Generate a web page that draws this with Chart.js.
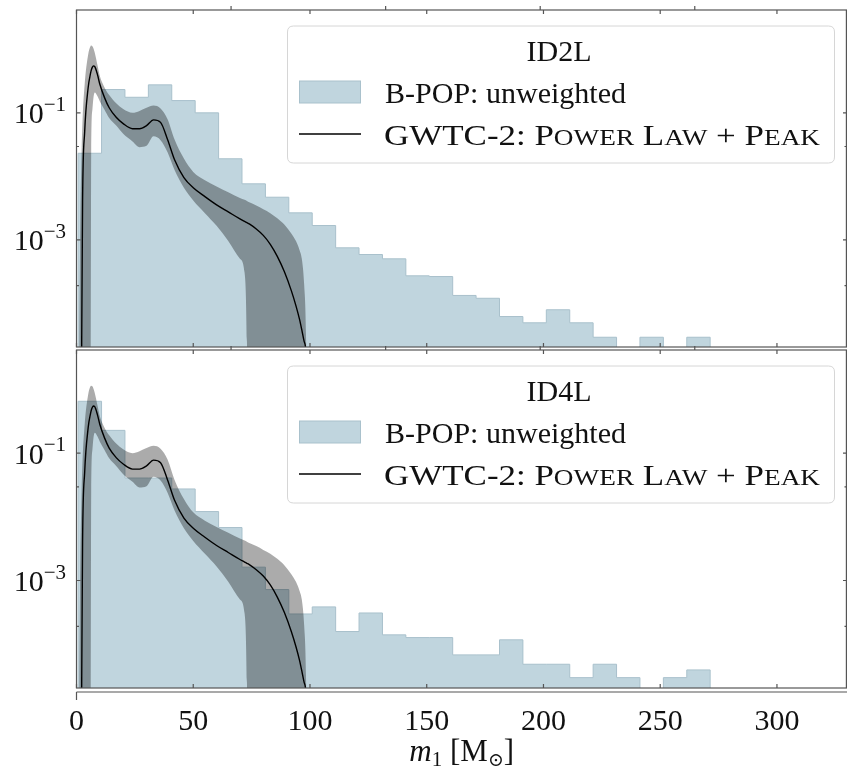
<!DOCTYPE html>
<html>
<head>
<meta charset="utf-8">
<script src="https://cdn.jsdelivr.net/npm/chart.js@4.4.0/dist/chart.umd.min.js"></script>
<style>
  html, body { margin: 0; padding: 0; background: #fff; }
  #wrap { position: relative; width: 847px; height: 771px; overflow: hidden; background: #fff; }
  canvas { position: absolute; left: 0; }
  #topPanel { top: 0; }
  #bottomPanel { top: 344px; }
</style>
</head>
<body>
<div id="wrap">
  <canvas id="topPanel" width="847" height="352"></canvas>
  <canvas id="bottomPanel" width="847" height="427"></canvas>
</div>
<script>
// histogram bin edges (27 bins, ~10 Msun wide)
var binEdges = [0.7, 10.73, 20.75, 30.78, 40.8, 50.83, 60.86, 70.88, 80.91, 90.93, 100.96, 110.99, 121.01,
                131.04, 141.06, 151.09, 161.12, 171.14, 181.17, 191.19, 201.22, 211.25, 221.27, 231.3,
                241.32, 251.35, 261.38, 271.4];

// B-POP unweighted densities
var histID2L = [0.0231, 0.233, 0.176, 0.276, 0.156, 0.100, 0.0189, 0.00762, 0.00469, 0.00266, 0.00168,
                0.000748, 0.000587, 0.000502, 0.000271, 0.000264, 0.000133, 0.000120, 0.0000619,
                0.0000493, 0.0000791, 0.0000493, 0.0000292, 0, 0.0000292, 0, 0.0000292];
var histID4L = [0.653, 0.228, 0.0407, 0.0407, 0.0274, 0.0121, 0.00679, 0.00162, 0.000721, 0.000298,
                0.000385, 0.000158, 0.000309, 0.000140, 0.000127, 0.000127, 0.0000679, 0.0000679,
                0.000117, 0.0000484, 0.0000484, 0.0000298, 0.0000484, 0.0000298, 0, 0.0000298, 0.0000394];

// GWTC-2 power law + peak: median and 90% band (log10 of density)
var massGrid  = [0.5, 1.5, 2.2, 2.6, 3.5, 5, 6, 6.3, 6.8, 7.2, 7.8, 9, 10, 12, 14, 17, 20, 24, 27, 30, 33, 36,
                 39, 42, 46, 50, 55, 60, 65, 70, 72, 73, 74, 77, 80, 83, 86, 89, 92, 94, 95.5, 96.5, 97.5,
                 98.3, 99, 100];
var medianLog = [-9, -9, -4.8, -2.4, -1.3, -0.6, -0.38, -0.33, -0.28, -0.26, -0.27, -0.4, -0.55, -0.76, -0.92,
                 -1.07, -1.17, -1.25, -1.25, -1.2, -1.11, -1.15, -1.42, -1.74, -2.02, -2.18, -2.32, -2.45,
                 -2.56, -2.67, -2.71, -2.73, -2.75, -2.83, -2.93, -3.07, -3.26, -3.5, -3.8, -4.04, -4.25,
                 -4.42, -4.6, -4.8, -6, -9];
var upperLog  = [-9, -3.2, -1.6, -1.1, -0.55, -0.08, 0.05, 0.06, 0.05, 0.02, -0.05, -0.25, -0.42, -0.6, -0.72,
                 -0.85, -0.94, -1.0, -0.97, -0.92, -0.885, -0.93, -1.1, -1.42, -1.72, -1.93, -2.06, -2.16,
                 -2.25, -2.34, -2.37, -2.39, -2.41, -2.46, -2.52, -2.58, -2.66, -2.76, -2.9, -3.02, -3.16,
                 -3.3, -3.7, -4.5, -7, -9];
var lowerLog  = [-9, -9, -9, -9, -9, -9, -6, -1.6, -0.95, -0.78, -0.68, -0.74, -0.82, -0.95, -1.08,
                 -1.2, -1.33, -1.45, -1.54, -1.52, -1.37, -1.43, -1.62, -1.9, -2.18, -2.38, -2.58, -2.78,
                 -3.02, -3.3, -3.52, -4.6, -9, -9, -9, -9, -9, -9, -9, -9, -9, -9, -9, -9, -9, -9];

var xTicks = [0, 50, 100, 150, 200, 250, 300];
var twinTicks = [66.2, 132.4, 198.6, 264.8];
var yMajor = [1e-1, 1e-3];
var yMajorExp = ['\u22121', '\u22123'];
var yMinor = [0.0295, 0.00019];

var X_MAX = 330, Y_MIN = 2.05e-5, Y_MAX = 4.17, FLOOR = 1e-9;
var SERIF = "'Liberation Serif', 'DejaVu Serif', 'DejaVu Sans', serif";
var AXIS = '#555555';

function curvePoints(logs) {
  return massGrid.map(function (m, i) { return { x: m, y: Math.pow(10, logs[i]) }; });
}

function histPoints(values) {
  var pts = [{ x: binEdges[0], y: FLOOR }];
  for (var i = 0; i < values.length; i++) {
    pts.push({ x: binEdges[i], y: values[i] > 0 ? values[i] : FLOOR });
  }
  var end = binEdges[binEdges.length - 1];
  var last = values[values.length - 1];
  pts.push({ x: end, y: last > 0 ? last : FLOOR });
  pts.push({ x: end, y: FLOOR });
  return pts;
}

function fontOf(r) { return (r.italic ? 'italic ' : '') + r.size + 'px ' + SERIF; }

function drawRuns(ctx, runs, x, y, align, fitWidth) {
  var total = 0;
  runs.forEach(function (r) { ctx.font = fontOf(r); r.w = ctx.measureText(r.text).width; total += r.w; });
  var sx = fitWidth ? fitWidth / total : 1;
  var w = total * sx;
  var start = align === 'center' ? x - w / 2 : (align === 'right' ? x - w : x);
  ctx.save();
  ctx.translate(start, y);
  ctx.scale(sx, 1);
  ctx.fillStyle = '#111';
  ctx.textAlign = 'left';
  ctx.textBaseline = 'alphabetic';
  var cx = 0;
  runs.forEach(function (r) { ctx.font = fontOf(r); ctx.fillText(r.text, cx, r.dy || 0); cx += r.w; });
  ctx.restore();
}

function smallCaps(text, size) {
  var runs = [];
  for (var i = 0; i < text.length; i++) {
    var ch = text[i];
    var low = ch !== ch.toUpperCase();
    var r = low ? { text: ch.toUpperCase(), size: size * 0.78 } : { text: ch, size: size };
    var prev = runs[runs.length - 1];
    if (prev && prev.size === r.size) prev.text += r.text; else runs.push(r);
  }
  return runs;
}

function roundRect(ctx, x, y, w, h, r) {
  ctx.beginPath();
  ctx.moveTo(x + r, y);
  ctx.lineTo(x + w - r, y); ctx.quadraticCurveTo(x + w, y, x + w, y + r);
  ctx.lineTo(x + w, y + h - r); ctx.quadraticCurveTo(x + w, y + h, x + w - r, y + h);
  ctx.lineTo(x + r, y + h); ctx.quadraticCurveTo(x, y + h, x, y + h - r);
  ctx.lineTo(x, y + r); ctx.quadraticCurveTo(x, y, x + r, y);
  ctx.closePath();
}

var panelFrame = {
  id: 'panelFrame',
  afterDraw: function (chart, args, opts) {
    var ctx = chart.ctx, a = chart.chartArea;
    var xs = chart.scales.x, ys = chart.scales.y;
    ctx.save();
    ctx.strokeStyle = AXIS;
    ctx.lineWidth = 1.2;
    // spines
    ctx.strokeRect(a.left, a.top, a.right - a.left - 0.6, a.bottom - a.top);
    ctx.beginPath();
    xTicks.forEach(function (v) {
      var px = xs.getPixelForValue(v);
      ctx.moveTo(px, a.bottom); ctx.lineTo(px, a.bottom - 4);
      ctx.moveTo(px, a.top); ctx.lineTo(px, a.top + 4);
    });
    twinTicks.forEach(function (v) {
      var px = xs.getPixelForValue(v);
      ctx.moveTo(px, a.top); ctx.lineTo(px, a.top - 4);
    });
    yMajor.forEach(function (v) {
      var py = ys.getPixelForValue(v);
      ctx.moveTo(a.left, py); ctx.lineTo(a.left + 4, py);
      ctx.moveTo(a.right, py); ctx.lineTo(a.right - 4, py);
    });
    yMinor.forEach(function (v) {
      var py = ys.getPixelForValue(v);
      ctx.moveTo(a.left, py); ctx.lineTo(a.left + 2.5, py);
      ctx.moveTo(a.right, py); ctx.lineTo(a.right - 2.5, py);
    });
    if (opts.extraBottomLine) {
      ctx.moveTo(a.left, a.bottom + 4); ctx.lineTo(a.right, a.bottom + 4);
      ctx.moveTo(a.left, a.bottom + 4); ctx.lineTo(a.left, a.bottom + 12);
    }
    ctx.stroke();

    // y tick labels
    yMajor.forEach(function (v, i) {
      var py = ys.getPixelForValue(v);
      drawRuns(ctx, [{ text: '10', size: 30 }, { text: yMajorExp[i], size: 21, dy: -12.5 }], 66, py + 10.5, 'right');
    });

    // legend
    var top = a.top + 16, bottom = a.top + 153;
    ctx.fillStyle = 'rgba(255,255,255,0.85)';
    ctx.strokeStyle = '#d6d6d6';
    ctx.lineWidth = 1;
    roundRect(ctx, 287.5, top, 547, bottom - top, 6);
    ctx.fill(); ctx.stroke();
    ctx.fillStyle = '#c0d5de';
    ctx.strokeStyle = '#a9c1cc';
    ctx.fillRect(299.5, a.top + 71, 61, 22);
    ctx.strokeRect(299.5, a.top + 71, 61, 22);
    ctx.strokeStyle = '#000';
    ctx.lineWidth = 1.4;
    ctx.beginPath(); ctx.moveTo(299, a.top + 124); ctx.lineTo(361, a.top + 124); ctx.stroke();
    drawRuns(ctx, [{ text: opts.title, size: 30 }], 559, a.top + 51, 'center');
    drawRuns(ctx, [{ text: 'B-POP: unweighted', size: 30 }], 385, a.top + 93, 'left', 241);
    drawRuns(ctx, [{ text: 'GWTC-2: ', size: 30 }].concat(smallCaps('Power Law + Peak', 30)),
             384, a.top + 135, 'left', 436);

    // x tick labels and axis title
    if (opts.showXLabels) {
      xTicks.forEach(function (v) {
        drawRuns(ctx, [{ text: String(v), size: 30 }], xs.getPixelForValue(v), a.bottom + 42, 'center');
      });
      drawRuns(ctx, [
        { text: 'm', size: 31, italic: true },
        { text: '1', size: 21, dy: 5 },
        { text: ' [M', size: 31 },
        { text: '\u2299', size: 19, dy: 5 },
        { text: ']', size: 31 }
      ], (a.left + a.right) / 2, a.bottom + 73, 'center');
    }
    ctx.restore();
  }
};

function makePanel(canvasId, hist, title, padTop, padBottom, showX) {
  return new Chart(document.getElementById(canvasId), {
    type: 'line',
    data: {
      datasets: [
        { label: 'GWTC-2: Power Law + Peak', data: curvePoints(medianLog), borderColor: '#000',
          borderWidth: 1.4, pointRadius: 0, fill: false, cubicInterpolationMode: 'monotone' },
        { label: 'upper', data: curvePoints(upperLog), borderColor: 'transparent', borderWidth: 0,
          pointRadius: 0, fill: '+1', backgroundColor: 'rgba(0,0,0,0.33)', cubicInterpolationMode: 'monotone' },
        { label: 'lower', data: curvePoints(lowerLog), borderColor: 'transparent', borderWidth: 0,
          pointRadius: 0, fill: false, cubicInterpolationMode: 'monotone' },
        { label: 'B-POP: unweighted', data: histPoints(hist), stepped: true, borderColor: '#a9c1cc',
          borderWidth: 1, backgroundColor: '#c0d5de', fill: 'start', pointRadius: 0 }
      ]
    },
    options: {
      responsive: false,
      animation: false,
      layout: { padding: { left: 76.5, right: 0, top: padTop, bottom: padBottom } },
      scales: {
        x: { type: 'linear', min: 0, max: X_MAX, display: false },
        y: { type: 'logarithmic', min: Y_MIN, max: Y_MAX, display: false }
      },
      plugins: {
        legend: { display: false },
        tooltip: { enabled: false },
        panelFrame: { title: title, showXLabels: showX, extraBottomLine: showX }
      }
    },
    plugins: [panelFrame]
  });
}

makePanel('topPanel', histID2L, 'ID2L', 10, 5, false);
makePanel('bottomPanel', histID4L, 'ID4L', 6, 83, true);
</script>
</body>
</html>
